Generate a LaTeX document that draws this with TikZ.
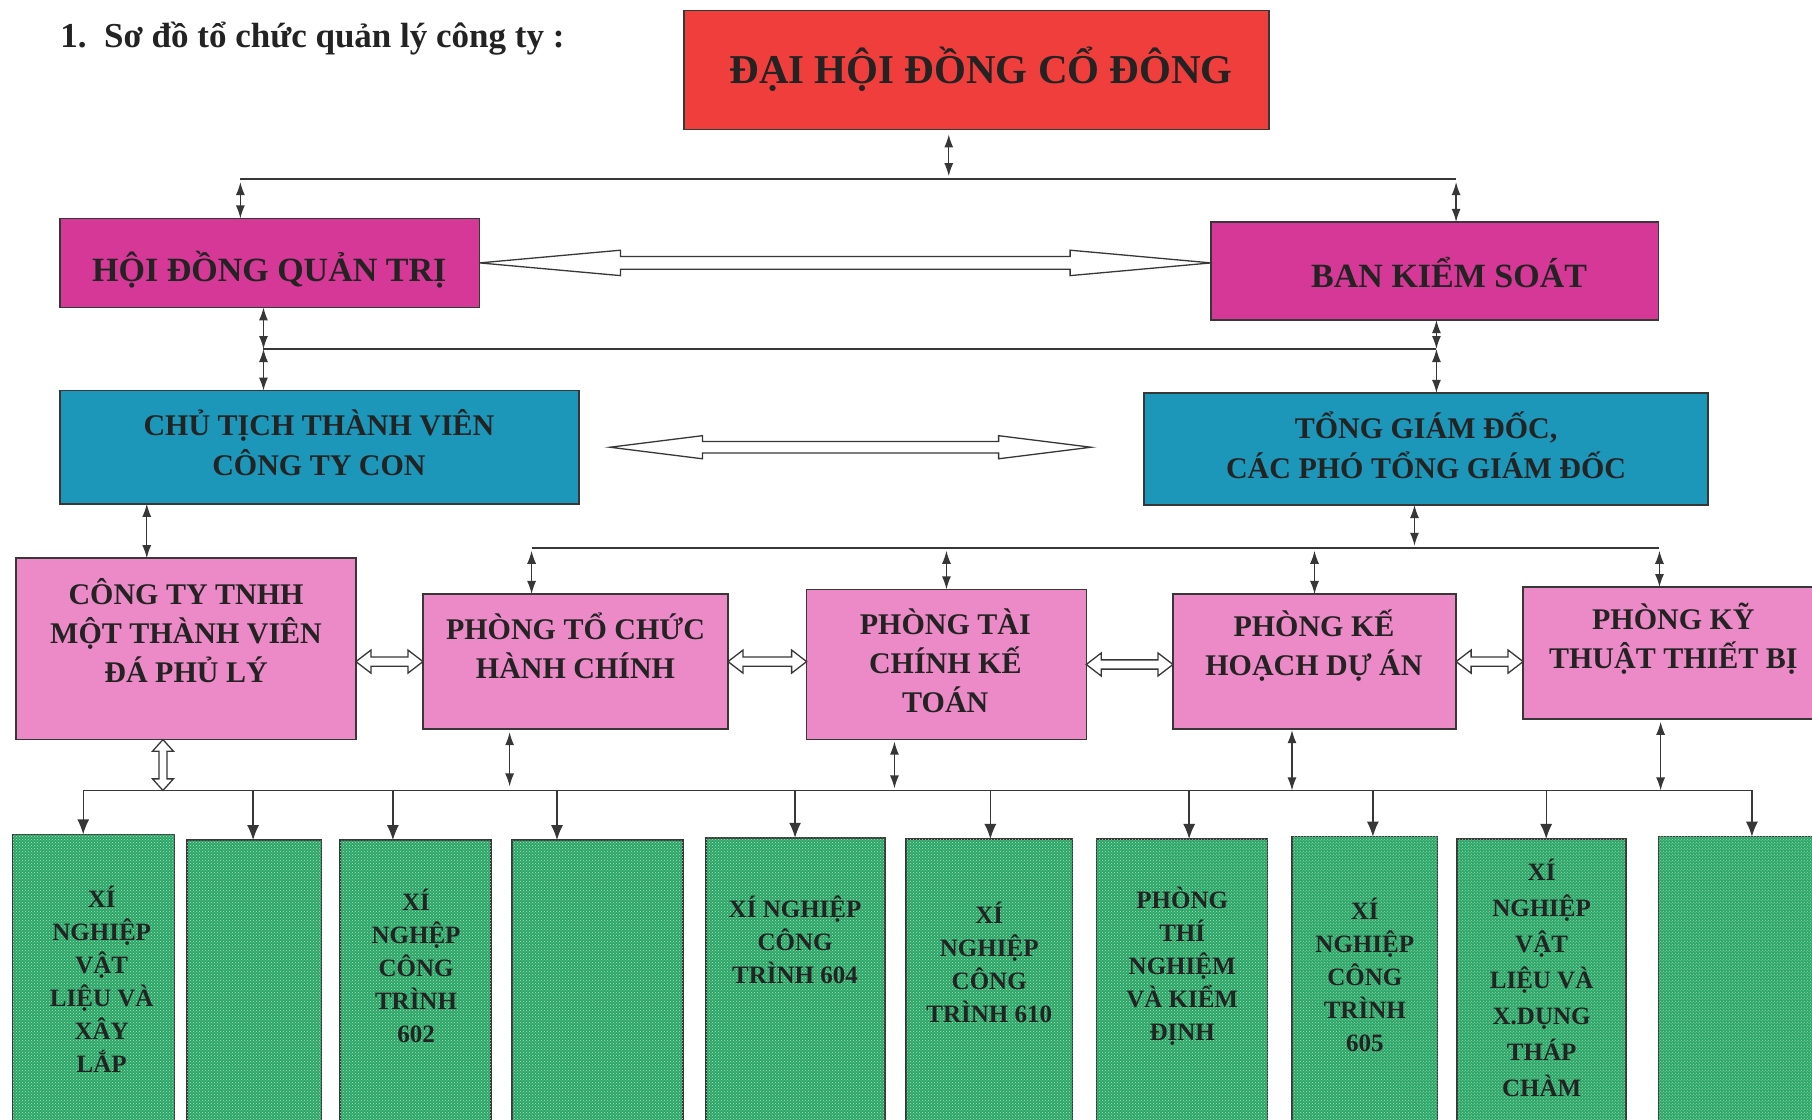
\documentclass[tikz,border=0pt]{standalone}
\usepackage{fontspec}
\setmainfont{Liberation Serif}
\usetikzlibrary{calc,arrows.meta,patterns}
\definecolor{cred}{RGB}{240,62,60}
\definecolor{cmag}{RGB}{213,56,150}
\definecolor{cteal}{RGB}{28,150,185}
\definecolor{cpink}{RGB}{236,138,200}
\definecolor{cgreen}{RGB}{44,166,104}
\definecolor{cgdot}{RGB}{170,225,190}
\definecolor{linec}{RGB}{55,55,55}
\definecolor{ctext}{RGB}{35,35,35}
\newcommand\bx[6]{\node[#6, minimum width={(#4-#2)*1.1556pt}, minimum height={(#5-#3)*1.1556pt}] (#1) at ({(#2+#4)/2},{(#3+#5)/2}) {};}
% horizontal hollow double arrow: #1 left tip, #2 right end (x only), #3 shaft half, #4 head half, #5 head length
\newcommand\hharrow[5]{\draw[hollow] (#1) -- ++(#5,#4) -- ++(0,{#3-#4}) -- ($(#1 -| #2)+(-#5,#3)$) -- ++(0,{#4-#3}) -- (#1 -| #2) -- ++(-#5,-#4) -- ++(0,{#4-#3}) -- ($(#1)+(#5,-#3)$) -- ++(0,{#3-#4}) -- cycle;}
% vertical hollow double arrow: #1 top tip, #2 bottom end (y only)
\newcommand\vharrow[5]{\draw[hollow] (#1) -- ++(#4,#5) -- ++({#3-#4},0) -- ($(#1 |- #2)+(#3,-#5)$) -- ++({#4-#3},0) -- (#1 |- #2) -- ++(-#4,-#5) -- ++({#4-#3},0) -- ($(#1)+(-#3,#5)$) -- ++({#3-#4},0) -- cycle;}
\begin{document}
\begin{tikzpicture}[x=1.1556pt,y=-1.1556pt,
  box/.style={draw=linec, line width=1.5pt, inner sep=0pt, outer sep=0pt},
  redbox/.style={box, fill=cred},
  magbox/.style={box, fill=cmag},
  tealbox/.style={box, fill=cteal},
  pinkbox/.style={box, fill=cpink},
  greenbox/.style={box, fill=cgreen, postaction={pattern=crosshatch dots, pattern color=cgdot}},
  txt/.style={text=ctext, align=center, inner sep=0pt},
  fA/.style={font=\fontsize{41}{48}\selectfont\bfseries},
  fB/.style={font=\fontsize{34}{40}\selectfont\bfseries},
  fC/.style={font=\fontsize{30}{40}\selectfont\bfseries},
  fD/.style={font=\fontsize{30}{39}\selectfont\bfseries},
  fE/.style={font=\fontsize{25}{33}\selectfont\bfseries},
  fF/.style={font=\fontsize{25}{36}\selectfont\bfseries},
  dbl/.style={{Latex[length=13pt,width=9pt]}-{Latex[length=13pt,width=9pt]}, line width=1.3pt, draw=linec},
  dn/.style={-{Latex[length=15pt,width=12pt]}, line width=1.3pt, draw=linec},
  bus/.style={line width=1.6pt, draw=linec},
  hollow/.style={draw=linec, line width=1.3pt, fill=white, line join=miter}]
\useasboundingbox (0,0) rectangle (1568,969);
\clip (0,0) rectangle (1568,969);
\fill[white] (0,0) rectangle (1568,969);

% title
\node[txt, anchor=west, font=\fontsize{35}{40}\selectfont\bfseries] (title) at (52,33) {1.\ \ Sơ đồ tổ chức quản lý công ty :};

% boxes
\bx{dh}{592}{9}{1098}{112}{redbox}
\bx{hdqt}{52}{189}{415}{266}{magbox}
\bx{bks}{1048}{192}{1435}{277}{magbox}
\bx{ct}{52}{338}{501}{436}{tealbox}
\bx{tgd}{990}{340}{1478}{437}{tealbox}
\bx{tnhh}{14}{483}{308}{640}{pinkbox}
\bx{tc}{366}{514}{630}{631}{pinkbox}
\bx{tk}{698}{510}{940}{640}{pinkbox}
\bx{kh}{1015}{514}{1260}{631}{pinkbox}
\bx{kt}{1318}{508}{1580}{622}{pinkbox}
\bx{g1}{11}{722}{151}{995}{greenbox}
\bx{g2}{162}{727}{278}{995}{greenbox}
\bx{g3}{294}{727}{425}{995}{greenbox}
\bx{g4}{443}{727}{591}{995}{greenbox}
\bx{g5}{611}{725}{766}{995}{greenbox}
\bx{g6}{784}{726}{928}{995}{greenbox}
\bx{g7}{949}{726}{1097}{995}{greenbox}
\bx{g8}{1118}{724}{1244}{995}{greenbox}
\bx{g9}{1261}{726}{1407}{995}{greenbox}
\bx{g10}{1435}{724}{1580}{995}{greenbox}

% texts
\node[txt,fA] (dht) at (849,60) {ĐẠI HỘI ĐỒNG CỔ ĐÔNG};
\node[txt,fB] (hdqtt) at (233,233) {HỘI ĐỒNG QUẢN TRỊ};
\node[txt,fB] (bkst) at (1254,236) {BAN KIỂM SOÁT};
\node[txt,fC] (ctt) at (276,383) {CHỦ TỊCH THÀNH VIÊN\\CÔNG TY CON};
\node[txt,fC] (tgdt) at (1234,385) {TỔNG GIÁM ĐỐC,\\CÁC PHÓ TỔNG GIÁM ĐỐC};
\node[txt,fD] (tnhht) at (161,546) {CÔNG TY TNHH\\MỘT THÀNH VIÊN\\ĐÁ PHỦ LÝ};
\node[txt,fD] (tct) at (498,559) {PHÒNG TỔ CHỨC\\HÀNH CHÍNH};
\node[txt,fD] (tkt) at (818,572) {PHÒNG TÀI\\CHÍNH KẾ\\TOÁN};
\node[txt,fD] (kht) at (1137,559) {PHÒNG KẾ\\HOẠCH DỰ ÁN};
\node[txt,fD] (ktt) at (1448,553) {PHÒNG KỸ\\THUẬT THIẾT BỊ};
\node[txt,fE] (g1t) at (88,847) {XÍ\\NGHIỆP\\VẬT\\LIỆU VÀ\\XÂY\\LẮP};
\node[txt,fE] (g3t) at (360,836) {XÍ\\NGHỆP\\CÔNG\\TRÌNH\\602};
\node[txt,fE] (g5t) at (688,813) {XÍ NGHIỆP\\CÔNG\\TRÌNH 604};
\node[txt,fE] (g6t) at (856,833) {XÍ\\NGHIỆP\\CÔNG\\TRÌNH 610};
\node[txt,fE] (g7t) at (1023,836) {PHÒNG\\THÍ\\NGHIỆM\\VÀ KIỂM\\ĐỊNH};
\node[txt,fE] (g8t) at (1181,844) {XÍ\\NGHIỆP\\CÔNG\\TRÌNH\\605};
\node[txt,fF] (g9t) at (1334,846) {XÍ\\NGHIỆP\\VẬT\\LIỆU VÀ\\X.DỤNG\\THÁP\\CHÀM};

% bus 1
\coordinate (b1L) at (208,155);
\coordinate (b1M) at (821,155);
\coordinate (b1R) at (1260,155);
\draw[bus] (b1L) -- (b1R);
\draw[dbl, shorten <=5pt, shorten >=3pt] (dh.south -| b1M) -- (b1M);
\draw[dbl, shorten <=3pt] (b1L) -- (hdqt.north -| b1L);
\draw[dbl, shorten <=3pt] (b1R) -- (bks.north -| b1R);

% hollow arrows
\hharrow{hdqt.east}{bks.west}{5.5}{11}{122}
\coordinate (h2a) at ([xshift=31pt]ct.east);
\coordinate (h2b) at ([xshift=-53pt]tgd.west);
\hharrow{h2a}{h2b}{5}{10}{80}

% bus 2
\coordinate (b2L) at (228,302);
\coordinate (b2R) at (1243,302);
\draw[bus] (b2L) -- (b2R);
\draw[dbl] (hdqt.south -| b2L) -- (b2L);
\draw[dbl] (b2L) -- (ct.north -| b2L);
\draw[dbl] (bks.south -| b2R) -- (b2R);
\draw[dbl] (b2R) -- (tgd.north -| b2R);

% chu tich -> cong ty tnhh
\coordinate (c1) at (127,437);
\draw[dbl] (c1 |- ct.south) -- (c1 |- tnhh.north);

% bus TGD
\coordinate (b4L) at (460,474);
\coordinate (b4M) at (1224,474);
\coordinate (b4R) at (1436,474);
\draw[bus] (b4L) -- (b4R);
\draw[dbl, shorten >=2pt] (tgd.south -| b4M) -- (b4M);
\draw[dbl, shorten <=3pt] (b4L) -- (tc.north -| b4L);
\draw[dbl, shorten <=3pt] (tk.north |- b4L) -- (tk.north);
\draw[dbl, shorten <=3pt] (kh.north |- b4L) -- (kh.north);
\draw[dbl, shorten <=3pt] (b4R) -- (kt.north -| b4R);

% row 3 hollow arrows
\hharrow{tnhh.east |- tc.west}{tc.west}{4}{10}{13}
\hharrow{tc.east}{tk.west}{4}{10}{13}
\hharrow{tk.east}{kh.west}{4}{10}{13}
\hharrow{kh.east}{kt.west}{4}{10}{13}

% bus 3
\coordinate (b3L) at (72,684);
\coordinate (b3R) at (1517,684);
\draw[bus] (b3L) -- (b3R);
\coordinate (v1) at ([xshift=-23.1pt]tnhh.south);
\vharrow{v1}{b3L}{3.5}{9}{10}
\coordinate (p1) at (441,684);
\coordinate (p2) at (774,684);
\coordinate (p3) at (1118,684);
\coordinate (p4) at (1437,684);
\draw[dbl, shorten <=3pt, shorten >=4pt] (p1 |- tc.south) -- (p1);
\draw[dbl, shorten <=2pt, shorten >=2pt] (p2 |- tk.south) -- (p2);
\draw[dbl, shorten <=1pt, shorten >=0pt] (p3 |- kh.south) -- (p3);
\draw[dbl, shorten <=3pt, shorten >=0pt] (p4 |- kt.south) -- (p4);

% drops to green boxes
\foreach \i/\x in {1/72,2/219,3/340,4/482,5/688,6/857,7/1029,8/1188,9/1338,10/1516}{
  \coordinate (d\i) at (\x,684);
  \draw[dn] (d\i) -- (d\i |- g\i.north);
}
\end{tikzpicture}
\end{document}
